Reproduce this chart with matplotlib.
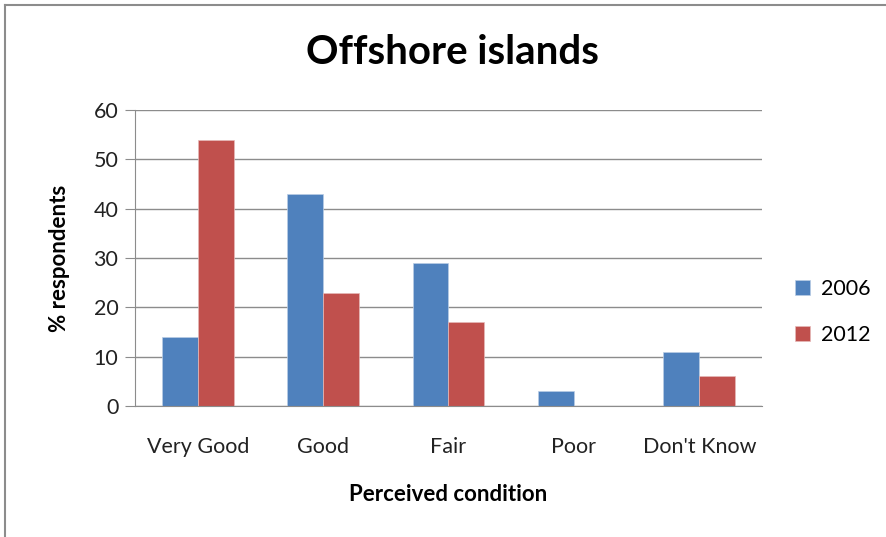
import matplotlib.pyplot as plt
import numpy as np
from matplotlib.lines import Line2D

categories = ['Very Good', 'Good', 'Fair', 'Poor', "Don't Know"]
years = ['2006', '2012']
vals_2006 = [14, 43, 29, 3, 11]
vals_2012 = [54, 23, 17, 0, 6]

blue = '#4f81bd'
red = '#c0504d'

plt.rcParams['font.family'] = ['Lato', 'DejaVu Sans']

fig = plt.figure(figsize=(8.87, 5.37), dpi=100)
ax = fig.add_axes([135 / 887, 1 - 406 / 537, 627 / 887, 296 / 537])

x = np.arange(len(categories))
w = 0.287
ax.bar(x - w / 2, vals_2006, w, color=blue, edgecolor='#b9cde5', linewidth=0.5, label=years[0], zorder=3)
ax.bar(x + w / 2, vals_2012, w, color=red, edgecolor='#e6b9b8', linewidth=0.5, label=years[1], zorder=3)

ax.set_xlim(-0.5, len(categories) - 0.5)
ax.set_ylim(0, 60)
ax.set_yticks(range(0, 61, 10))
ax.set_xticks(x)
ax.set_xticklabels(categories)
ax.yaxis.grid(True, color='#8c8c8c', linewidth=1, zorder=0)
ax.tick_params(axis='y', length=7, color='#8c8c8c', labelsize=15.5, pad=5, labelcolor='#222222')
ax.tick_params(axis='x', length=0, labelsize=15.5, pad=22, labelcolor='#222222')
for s in ['top', 'right']:
    ax.spines[s].set_visible(False)
for s in ['left', 'bottom']:
    ax.spines[s].set_color('#8c8c8c')
    ax.spines[s].set_zorder(4)

ax.set_xlabel('Perceived condition', fontsize=16, fontweight='bold', labelpad=20)
ax.set_ylabel('% respondents', fontsize=16, fontweight='bold', labelpad=17)
fig.text(452 / 887, 1 - 52 / 537, 'Offshore islands', fontsize=29, fontweight='bold',
         ha='center', va='center')

ax.legend(loc='center left', bbox_to_anchor=(1.022, 0.318), frameon=False, fontsize=15.5,
          handlelength=0.7, handleheight=0.7, labelspacing=1.2, handletextpad=0.5)

# chart frame
fig.add_artist(Line2D([5 / 887, 1], [1 - 5 / 537] * 2, color='#8c8c8c', lw=1.5))
fig.add_artist(Line2D([5 / 887] * 2, [0, 1 - 5 / 537], color='#8c8c8c', lw=1.5))

fig.savefig('out.png', dpi=100)
